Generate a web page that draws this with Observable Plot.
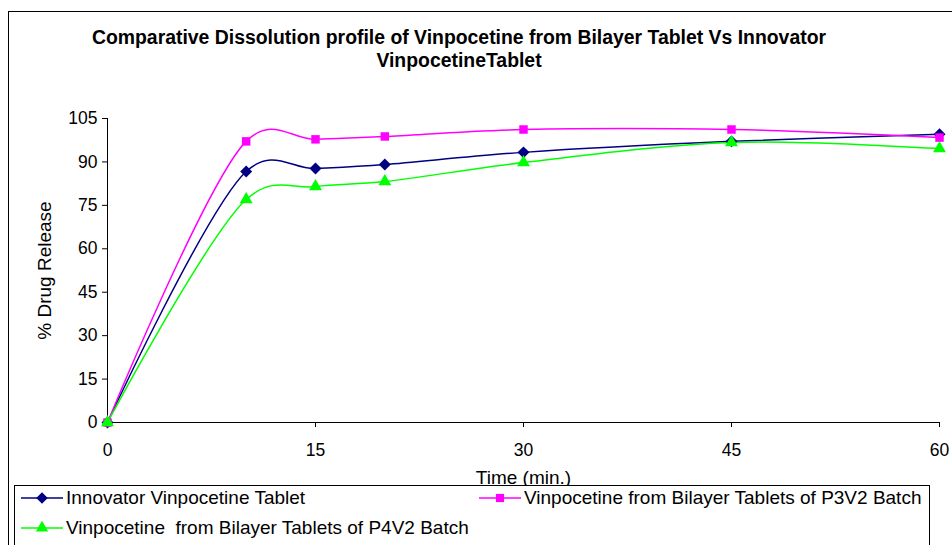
<!DOCTYPE html>
<html>
<head>
<meta charset="utf-8">
<script src="https://cdn.jsdelivr.net/npm/d3@7"></script>
<script src="https://cdn.jsdelivr.net/npm/@observablehq/plot@0.6"></script>
<style>
  html, body { margin: 0; padding: 0; background: #fff; }
  #wrap { position: relative; width: 952px; height: 545px; overflow: hidden; font-family: "Liberation Sans", Arial, sans-serif; }
  #border { position: absolute; left: 8px; top: 11px; width: 1000px; height: 600px; border: 1.5px solid #000; box-sizing: border-box; }
  #title { position: absolute; left: 0; width: 918px; top: 26px; text-align: center; font-weight: bold; font-size: 19.4px; line-height: 23px; color: #000; }
  #chart { position: absolute; left: 0; top: 0; }
  #legend { position: absolute; left: 14px; top: 485px; width: 916px; height: 80px; border: 1px solid #000; background: #fff; box-sizing: border-box; }
  .item { position: absolute; font-size: 19px; color: #000; white-space: pre; display: flex; align-items: center; }
  .item svg { margin-right: 3px; }
</style>
</head>
<body>
<div id="wrap">
  <div id="border"></div>
  <div id="chart"></div>
  <div id="title">Comparative Dissolution profile of Vinpocetine from Bilayer Tablet Vs Innovator<br>VinpocetineTablet</div>
  <div id="legend"></div>
</div>
<script>
const times = [0, 10, 15, 20, 30, 45, 60];
const innovator = [0, 86.7, 87.7, 89.1, 93.3, 97.1, 99.6];
const p3v2 = [0, 97.1, 97.8, 98.8, 101.2, 101.2, 98.4];
const p4v2 = [0, 77.0, 81.5, 83.2, 89.8, 96.7, 94.6];
const seriesNames = [
  "Innovator Vinpocetine Tablet",
  "Vinpocetine from Bilayer Tablets of P3V2 Batch",
  "Vinpocetine  from Bilayer Tablets of P4V2 Batch"
];
const xTicks = [0, 15, 30, 45, 60];
const yTicks = [0, 15, 30, 45, 60, 75, 90, 105];

const colors = ["#000080", "#FF00FF", "#00FF00"];
const symbols = ["diamond2", "square2", "triangle2"];
const allValues = [innovator, p3v2, p4v2];

const data = [];
allValues.forEach((vals, s) => {
  vals.forEach((v, i) => data.push({ series: seriesNames[s], time: times[i], value: v, s }));
});

const marks = [
  Plot.axisY({ ticks: yTicks, tickSize: 5, tickPadding: 5, fontSize: 17.5, label: "% Drug Release", labelAnchor: "center", labelOffset: 70, labelArrow: "none" }),
  Plot.axisX({ ticks: xTicks, tickSize: 5, tickPadding: 16, fontSize: 17.5, label: "Time (min.)", labelAnchor: "center", labelOffset: 61, labelArrow: "none" }),
  Plot.ruleX([0], { stroke: "#000", strokeWidth: 1 }),
  Plot.ruleY([0], { stroke: "#000", strokeWidth: 1 })
];
[0, 1, 2].forEach(s => {
  const d = data.filter(r => r.s === s);
  marks.push(Plot.line(d, { x: "time", y: "value", stroke: colors[s], strokeWidth: 1.5, curve: "catmull-rom", tension: 0.25 }));
});
[0, 1, 2].forEach(s => {
  const d = data.filter(r => r.s === s);
  marks.push(Plot.dot(d, { x: "time", y: "value", fill: colors[s], stroke: "none", symbol: () => symbols[s], r: s === 2 ? 6.2 : 5.4 }));
});

const chart = Plot.plot({
  width: 952,
  height: 500,
  marginLeft: 107,
  marginRight: 13,
  marginTop: 118,
  marginBottom: 78,
  x: { domain: [0, 60] },
  y: { domain: [0, 105] },
  symbol: { type: "identity" },
  style: { fontFamily: "Liberation Sans, Arial, sans-serif", fontSize: "17.5px", color: "#000", background: "transparent" },
  marks
});
chart.querySelectorAll("[aria-label='y-axis label'], [aria-label='x-axis label']").forEach(g => {
  g.setAttribute("font-size", "19px");
  g.querySelectorAll("text").forEach(t => t.setAttribute("font-size", "19px"));
});
document.getElementById("chart").appendChild(chart);

// Legend
const legend = document.getElementById("legend");
const pos = [[6, 1], [464, 1], [6, 31]];
seriesNames.forEach((name, s) => {
  const item = document.createElement("div");
  item.className = "item";
  item.style.left = pos[s][0] + "px";
  item.style.top = pos[s][1] + "px";
  const svg = d3.create("svg").attr("width", 42).attr("height", 22);
  svg.append("line").attr("x1", 0).attr("x2", 42).attr("y1", 11).attr("y2", 11).attr("stroke", colors[s]).attr("stroke-width", 1.5);
  const sym = [d3.symbolDiamond2, d3.symbolSquare2, d3.symbolTriangle2][s];
  svg.append("path").attr("d", d3.symbol(sym, s === 2 ? 110 : 85)()).attr("transform", "translate(21,11)").attr("fill", colors[s]);
  item.appendChild(svg.node());
  const span = document.createElement("span");
  span.textContent = name;
  item.appendChild(span);
  legend.appendChild(item);
});
</script>
</body>
</html>
